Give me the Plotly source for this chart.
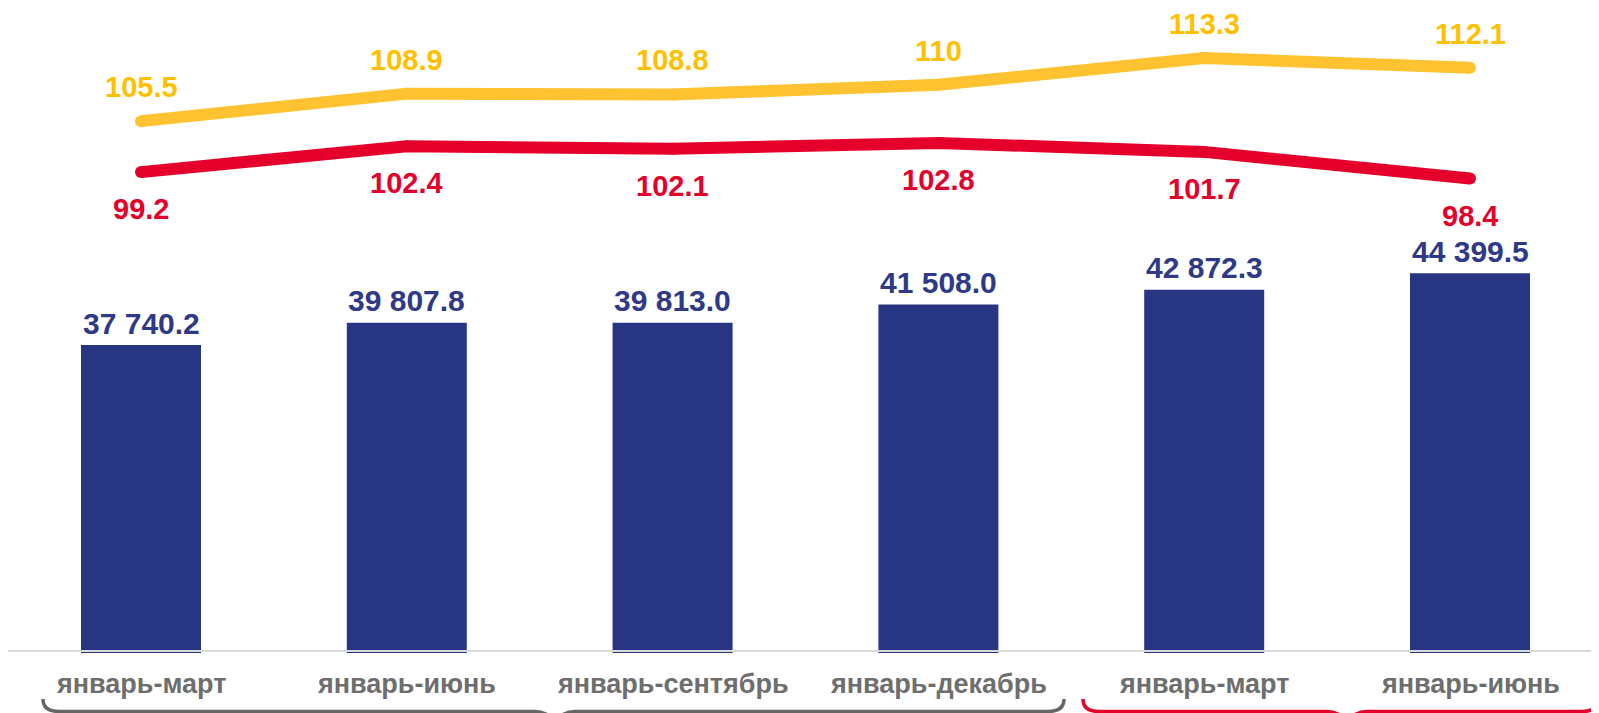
import plotly.graph_objects as go

# ---------------- data ----------------
categories = ["январь-март", "январь-июнь", "январь-сентябрь", "январь-декабрь",
              "январь-март", "январь-июнь"]
bar_values = [37740.2, 39807.8, 39813.0, 41508.0, 42872.3, 44399.5]
yellow_values = [105.5, 108.9, 108.8, 110.0, 113.3, 112.1]
red_values = [99.2, 102.4, 102.1, 102.8, 101.7, 98.4]

# ---------------- styling ----------------
W, H = 1599, 713
OFF = 8                       # page body margin in the browser
PLOT_BOTTOM = 653             # page px of plot-area bottom
PLOT_H = PLOT_BOTTOM - OFF    # plot area spans page px 8..653
M_B = H - PLOT_H
FONT = "Liberation Sans, Arial, sans-serif"
NAVY = "#283583"
NAVY_TXT = "#2E3A87"
YELLOW = "#FFC230"
YELLOW_TXT = "#FFC000"
RED = "#E4002B"
GRAY_TXT = "#6E6E6E"
GRAY_BR = "#666666"

x_idx = list(range(len(categories)))


def fmt_bar(v):
    return f"{v:,.1f}".replace(",", " ")


def fmt_line(v):
    return f"{v:g}"


def px_x(px):
    return (px - OFF) / W


def px_y(py):
    return (PLOT_BOTTOM - py) / PLOT_H


fig = go.Figure()

fig.add_trace(go.Bar(
    x=x_idx, y=bar_values, width=0.4515,
    marker=dict(color=NAVY, line=dict(width=0)),
    hovertext=categories, showlegend=False,
))

for vals, col in ((yellow_values, YELLOW), (red_values, RED)):
    fig.add_trace(go.Scatter(
        x=x_idx, y=vals, yaxis="y2", mode="lines+markers",
        line=dict(color=col, width=12),
        marker=dict(color=col, size=12, line=dict(width=0)),
        showlegend=False,
    ))

annotations = []
for i, v in enumerate(bar_values):
    annotations.append(dict(
        x=i, y=v, xref="x", yref="y", text=fmt_bar(v), showarrow=False,
        yanchor="middle", yshift=22,
        font=dict(family=FONT, size=30, color=NAVY_TXT, weight="bold")))
for i, v in enumerate(yellow_values):
    annotations.append(dict(
        x=i, y=v, xref="x", yref="y2", text=fmt_line(v), showarrow=False,
        yanchor="middle", yshift=34,
        font=dict(family=FONT, size=29, color=YELLOW_TXT, weight="bold")))
for i, v in enumerate(red_values):
    annotations.append(dict(
        x=i, y=v, xref="x", yref="y2", text=fmt_line(v), showarrow=False,
        yanchor="middle", yshift=-37,
        font=dict(family=FONT, size=29, color=RED, weight="bold")))
for i, c in enumerate(categories):
    annotations.append(dict(
        x=i, y=px_y(683.5), xref="x", yref="paper", text=c, showarrow=False,
        yanchor="middle",
        font=dict(family=FONT, size=27, color=GRAY_TXT, weight="bold")))


def brace(x0, x1, cusp):
    y = 711.5
    top = 699
    pts = [
        f"M {px_x(x0)},{px_y(top)}",
        f"Q {px_x(x0)},{px_y(y)} {px_x(x0 + 16)},{px_y(y)}",
        f"L {px_x(cusp - 20)},{px_y(y)}",
        f"Q {px_x(cusp - 5)},{px_y(y)} {px_x(cusp)},{px_y(726)}",
        f"Q {px_x(cusp + 5)},{px_y(y)} {px_x(cusp + 20)},{px_y(y)}",
        f"L {px_x(x1 - 16)},{px_y(y)}",
        f"Q {px_x(x1)},{px_y(y)} {px_x(x1)},{px_y(top)}",
    ]
    return " ".join(pts)


shapes = [
    dict(type="line", xref="paper", yref="paper",
         x0=px_x(8), x1=1, y0=px_y(651), y1=px_y(651),
         line=dict(color="#D9D9D9", width=2), layer="above"),
    dict(type="path", xref="paper", yref="paper", path=brace(43, 1064, 555),
         line=dict(color=GRAY_BR, width=3.5)),
    dict(type="path", xref="paper", yref="paper", path=brace(1083, 1598, 1347),
         line=dict(color=RED, width=3.5)),
]

# axis ranges chosen so that page px 8..653 map onto the plot area
x_px_per_unit = 265.8
x0_page = 141
fig.update_layout(
    width=W, height=H,
    margin=dict(l=0, r=0, t=0, b=M_B, pad=0),
    paper_bgcolor="white", plot_bgcolor="white",
    xaxis=dict(range=[-(x0_page - OFF) / x_px_per_unit,
                      (W - (x0_page - OFF)) / x_px_per_unit],
               showgrid=False, zeroline=False,
               showticklabels=False, showline=False, fixedrange=True),
    yaxis=dict(range=[9134.2, 69039.5], showgrid=False, zeroline=False,
               showticklabels=False, showline=False),
    yaxis2=dict(range=[39.74, 119.49], overlaying="y", side="right",
                showgrid=False, zeroline=False, showticklabels=False,
                showline=False),
    annotations=annotations, shapes=shapes,
    showlegend=False,
)

fig.write_html("out.html")
